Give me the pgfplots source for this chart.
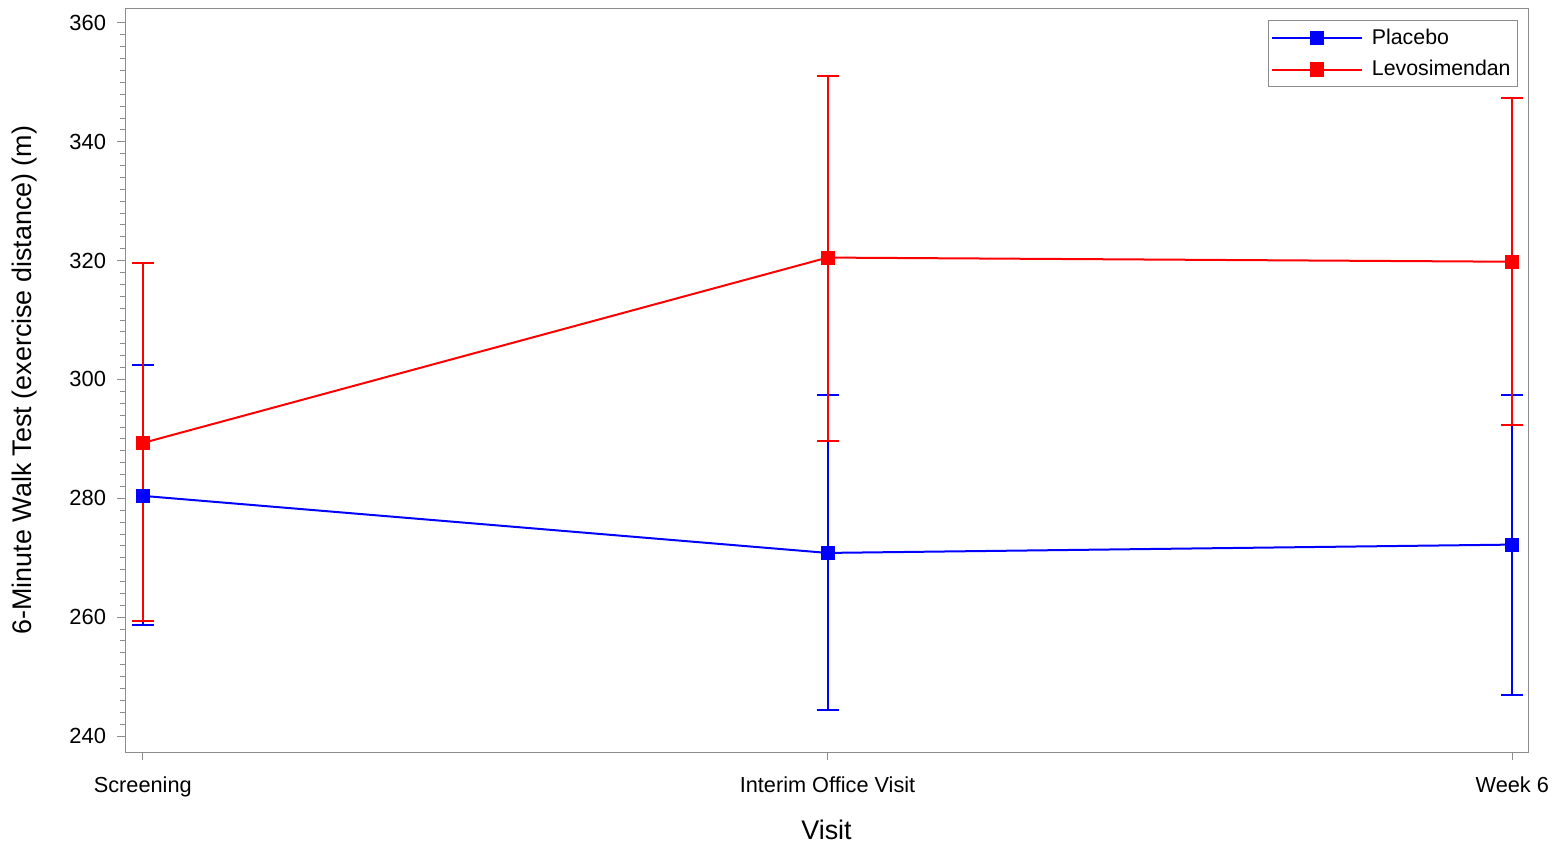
\documentclass[border=0pt]{standalone}
\usepackage{fontspec}
\setmainfont{Liberation Sans}
\usepackage{pgfplots}
\pgfplotsset{compat=1.18}

\definecolor{frame}{RGB}{140,140,140}

\begin{document}
\begin{tikzpicture}
\useasboundingbox (-62.5bp,-46.5bp) rectangle (715.5bp,376bp);
\begin{axis}[
scale only axis,
width=701.5bp,
height=372bp,
xmin=-0.026, xmax=2.023,
ymin=237.3, ymax=362.5,
xtick={0,1,2},
xticklabels={Screening, Interim Office Visit, Week 6},
ytick={240,260,...,360},
minor y tick num=9,
xtick pos=bottom,
ytick pos=left,
tick align=outside,
major tick length=4bp,
minor tick length=2.5bp,
axis line style={frame},
every tick/.style={frame},
/pgf/number format/assume math mode=true,
x tick label style={font=\fontsize{10.9}{12}\selectfont, yshift=-5bp},
y tick label style={font=\fontsize{11}{13}\selectfont, xshift=-2bp},
xlabel={Visit},
ylabel={6-Minute Walk Test (exercise distance) (m)},
x label style={at={(axis description cs:0.5,-0.1048)}, anchor=center, font=\fontsize{13.5}{15}\selectfont},
y label style={at={(axis description cs:-0.0713,0.5)}, anchor=center, font=\fontsize{13.5}{15}\selectfont},
legend style={at={(1,1)}, anchor=north east, xshift=-5bp, yshift=-6.25bp,
  draw=frame, font=\fontsize{10.7}{13}\selectfont, row sep=2.5bp,
  inner xsep=1.5bp, inner ysep=2bp,
  nodes={inner xsep=2bp}},
legend cell align=left,
legend image code/.code={\draw[mark repeat=2, mark phase=2, #1] plot coordinates {(0bp,0bp) (22.5bp,0bp) (45bp,0bp)};
  \path (47.5bp,0bp);},
]
% Placebo
\addplot[blue, line width=1bp, mark=square*, mark size=3bp,
  error bars/y dir=both, error bars/y explicit,
  error bars/error bar style={line width=1bp},
  error bars/error mark options={rotate=90, mark size=5.5bp, line width=1bp}]
  coordinates {
  (0,280.4) += (0,22.0) -= (0,21.7)
  (1,270.8) += (0,26.6) -= (0,26.4)
  (2,272.2) += (0,25.2) -= (0,25.3)
};
\addlegendentry{Placebo}
% Levosimendan
\addplot[red, line width=1bp, mark=square*, mark size=3bp,
  error bars/y dir=both, error bars/y explicit,
  error bars/error bar style={line width=1bp},
  error bars/error mark options={rotate=90, mark size=5.5bp, line width=1bp}]
  coordinates {
  (0,289.3) += (0,30.3) -= (0,29.9)
  (1,320.5) += (0,30.6) -= (0,30.9)
  (2,319.8) += (0,27.6) -= (0,27.5)
};
\addlegendentry{Levosimendan}
\end{axis}
\end{tikzpicture}
\end{document}
